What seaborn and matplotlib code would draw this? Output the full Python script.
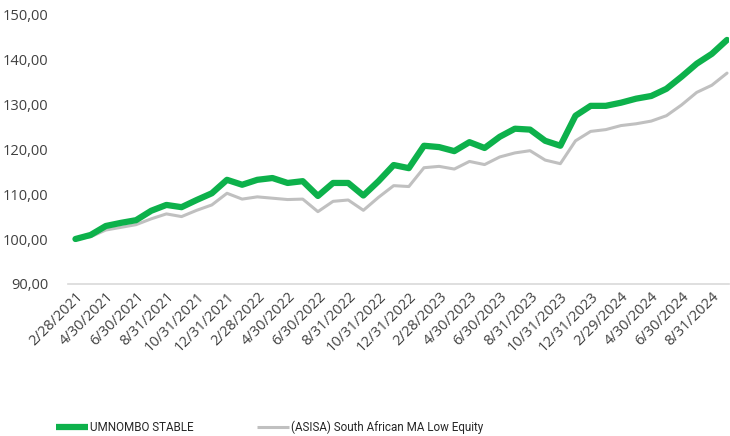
import pandas as pd
import numpy as np
import matplotlib.pyplot as plt
import seaborn as sns
from matplotlib.ticker import FuncFormatter
from matplotlib.lines import Line2D

# month-end dates, Feb 2021 .. Sep 2024
dates = pd.date_range('2021-02-28', periods=44, freq='ME')

umnombo = [100.0, 100.9, 102.9, 103.6, 104.2, 106.3, 107.6, 107.1, 108.7, 110.2,
           113.2, 112.1, 113.2, 113.6, 112.5, 112.9, 109.6, 112.5, 112.5, 109.7,
           112.9, 116.5, 115.8, 120.8, 120.5, 119.6, 121.6, 120.3, 122.8, 124.6,
           124.4, 121.9, 120.8, 127.5, 129.7, 129.7, 130.4, 131.3, 131.9, 133.5,
           136.2, 139.1, 141.3, 144.4]
asisa = [100.0, 100.5, 102.0, 102.6, 103.2, 104.5, 105.6, 105.0, 106.4, 107.6,
         110.2, 108.9, 109.4, 109.1, 108.8, 108.9, 106.1, 108.4, 108.7, 106.4,
         109.3, 111.9, 111.7, 115.9, 116.2, 115.6, 117.3, 116.6, 118.3, 119.2,
         119.7, 117.6, 116.8, 121.9, 124.0, 124.4, 125.3, 125.7, 126.3, 127.5,
         129.9, 132.7, 134.3, 137.0]

df = pd.DataFrame({'idx': np.arange(len(dates)), 'UMNOMBO STABLE': umnombo,
                   '(ASISA) South African MA Low Equity': asisa})
long = df.melt(id_vars='idx', var_name='series', value_name='value')

sns.set_theme(style='white')
plt.rcParams['font.family'] = ['Open Sans', 'DejaVu Sans']

fig = plt.figure(figsize=(7.3, 4.36), dpi=100)
ax = fig.add_axes([0.093, 0.349, 0.905, 0.617])

sns.lineplot(data=long, x='idx', y='value', hue='series', size='series',
             sizes={'UMNOMBO STABLE': 4.5, '(ASISA) South African MA Low Equity': 2.2},
             palette={'UMNOMBO STABLE': '#0db14b', '(ASISA) South African MA Low Equity': '#c0c0c0'},
             hue_order=['(ASISA) South African MA Low Equity', 'UMNOMBO STABLE'],
             ax=ax, legend=False)
for ln in ax.lines:
    ln.set_solid_capstyle('round')

ax.set_ylim(90, 150)
ax.set_yticks(range(90, 151, 10))
ax.yaxis.set_major_formatter(FuncFormatter(lambda v, p: f"{v:.2f}".replace('.', ',')))
ax.set_xlim(-0.5, 43.1)
ticks = list(range(0, len(dates), 2))
ax.set_xticks(ticks)
ax.set_xticklabels([f"{dates[i].month}/{dates[i].day}/{dates[i].year}" for i in ticks],
                   rotation=45, ha='right', rotation_mode='anchor')
ax.tick_params(axis='both', length=0, labelsize=10.5, colors='#404040')
ax.tick_params(axis='x', pad=4)
ax.tick_params(axis='y', pad=14)
ax.set_xlabel('')
ax.set_ylabel('')
for s in ['top', 'right', 'left']:
    ax.spines[s].set_visible(False)
ax.spines['bottom'].set_color('#d9d9d9')
ax.spines['bottom'].set_linewidth(1.2)

handles = [Line2D([], [], color='#0db14b', lw=4.5, solid_capstyle='butt'),
           Line2D([], [], color='#c0c0c0', lw=2.2, solid_capstyle='butt')]
fig.legend(handles, ['UMNOMBO STABLE', '(ASISA) South African MA Low Equity'],
           loc='center left', bbox_to_anchor=(0.062, 0.02), ncol=2, frameon=False,
           prop={'family': ['Roboto', 'DejaVu Sans'], 'size': 8.4},
           handlelength=2.8, handletextpad=0.15, columnspacing=5.4,
           labelcolor='#262626')

fig.savefig('out.png', dpi=100)
